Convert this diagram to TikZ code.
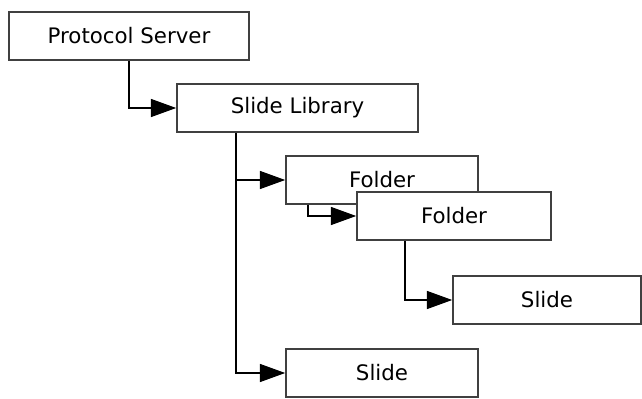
\documentclass[tikz,border=0pt]{standalone}
\usepackage{fontspec}
\setmainfont{DejaVu Sans}
\usetikzlibrary{arrows.meta}

\tikzset{every picture/.style={line width=0.75pt}}
\tikzset{
  box/.style={draw=black!75, line width=1.2pt, fill=white, rectangle, minimum height=36pt, inner sep=0.75pt, font=\fontsize{16}{19}\selectfont},
  conn/.style={draw=black, line width=1.1pt, -{Triangle[length=19pt,width=13.5pt]}}
}

\begin{document}
\begin{tikzpicture}[x=0.75pt,y=0.75pt,yscale=-1,xscale=1]
    \useasboundingbox (0,0) rectangle (642,399);

    %Shape: Rectangle [id:server]
    \node [box, minimum width=180pt] (server) at (129,36) {Protocol Server};
    %Shape: Rectangle [id:library]
    \node [box, minimum width=180.75pt] (library) at (297.5,108) {Slide Library};
    %Shape: Rectangle [id:folderA]
    \node [box, minimum width=144pt] (folderA) at (382,180) {Folder};
    %Shape: Rectangle [id:folderB]
    \node [box, minimum width=145.5pt] (folderB) at (454,216) {Folder};
    %Shape: Rectangle [id:slideA]
    \node [box, minimum width=141pt] (slideA) at (547,300) {Slide};
    %Shape: Rectangle [id:slideB]
    \node [box, minimum width=144pt] (slideB) at (382,373) {Slide};

    %Straight Lines [id:server-library]
    \draw [conn] (server.south) |- (library.west);
    %Straight Lines [id:library-folderA]
    \draw [conn] (library.south west) ++(60,0) |- (folderA.west);
    %Straight Lines [id:library-slideB]
    \draw [conn] (library.south west) ++(60,0) |- (slideB.west);
    %Straight Lines [id:folderA-folderB]
    \draw [conn] (folderA.south west) ++(23,0) |- (folderB.west);
    %Straight Lines [id:folderB-slideA]
    \draw [conn] (folderB.south west) ++(49,0) |- (slideA.west);

    % redraw second folder over the first one
    \node [box, minimum width=145.5pt] at (folderB) {Folder};

\end{tikzpicture}
\end{document}
